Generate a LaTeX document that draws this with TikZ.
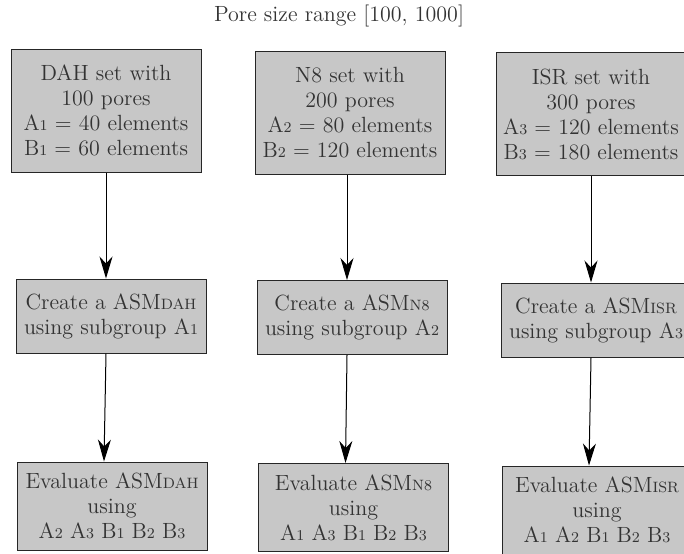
\documentclass[tikz,border=0pt]{standalone}
\usepackage{amsmath}
\usetikzlibrary{arrows.meta}
\newcommand{\sm}[1]{{\fontsize{7.5}{9}\selectfont #1}}

\begin{document}
\begin{tikzpicture}[
    x=0.5pt, y=-0.5pt,
    box/.style={draw=black!85, fill=black!22, line width=0.5pt, align=center, inner sep=2pt},
    setbox/.style={box, minimum width=95pt, minimum height=61.5pt},
    asmbox/.style={box, minimum width=95pt, minimum height=37pt},
    evalbox/.style={box, minimum width=95pt, minimum height=44pt},
    arr/.style={-{Stealth[length=11pt, width=6.5pt, inset=3.5pt]}, line width=0.5pt},
    every node/.style={font=\fontsize{11}{12.5}\selectfont, text=black!80}
  ]
  \useasboundingbox (0,0) rectangle (684,553);
  \clip (0,0) rectangle (684,553);

  \node (title) at (339,16) {Pore size range [100, 1000]};

  % sets
  \node[setbox] (setdah) at (106,110.5) {DAH set with\\100 pores\\A\sm{1} = 40 elements\\B\sm{1} = 60 elements};
  \node[setbox] (setn) at (350,113) {N8 set with\\200 pores\\A\sm{2} = 80 elements\\B\sm{2} = 120 elements};
  \node[setbox] (setisr) at (591,114) {ISR set with\\300 pores\\A\sm{3} = 120 elements\\B\sm{3} = 180 elements};

  % models
  \node[asmbox] (asmdah) at (111,316) {Create a ASM\sm{DAH}\\using subgroup A\sm{1}};
  \node[asmbox] (asmn) at (352,317.5) {Create a ASM\sm{N8}\\using subgroup A\sm{2}};
  \node[asmbox] (asmisr) at (596,320) {Create a ASM\sm{ISR}\\using subgroup A\sm{3}};

  % evaluation
  \node[evalbox] (evaldah) at (112,506) {Evaluate ASM\sm{DAH}\\using\\A\sm{2} A\sm{3} B\sm{1} B\sm{2} B\sm{3}};
  \node[evalbox] (evaln) at (353.5,507.5) {Evaluate ASM\sm{N8}\\using\\A\sm{1} A\sm{3} B\sm{1} B\sm{2} B\sm{3}};
  \node[evalbox] (evalisr) at (597,510) {Evaluate ASM\sm{ISR}\\using\\A\sm{1} A\sm{2} B\sm{1} B\sm{2} B\sm{3}};

  \draw[arr] (setdah.south) -- ([xshift=-2.5pt]asmdah.north);
  \draw[arr] ([xshift=-2.5pt]asmdah.south) -- ([xshift=-4pt]evaldah.north);
  \draw[arr] ([xshift=-1.5pt]setn.south) -- ([xshift=-2.5pt]asmn.north);
  \draw[arr] ([xshift=-2.5pt]asmn.south) -- ([xshift=-4pt]evaln.north);
  \draw[arr] (setisr.south) -- ([xshift=-2.5pt]asmisr.north);
  \draw[arr] ([xshift=-2.5pt]asmisr.south) -- ([xshift=-4pt]evalisr.north);
\end{tikzpicture}
\end{document}
